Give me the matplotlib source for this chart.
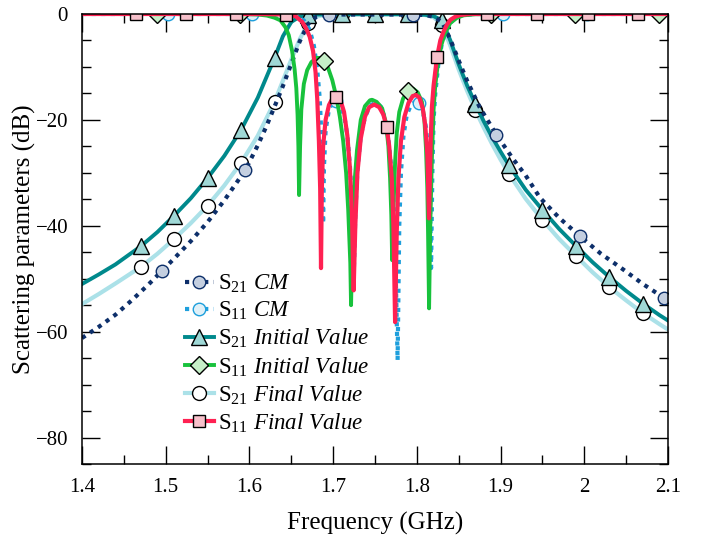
import numpy as np
import matplotlib
matplotlib.use("Agg")
import matplotlib.pyplot as plt
from matplotlib.ticker import MultipleLocator, FuncFormatter

plt.rcParams['font.family'] = ['Liberation Serif', 'DejaVu Serif']
plt.rcParams['mathtext.fontset'] = 'custom'
plt.rcParams['mathtext.rm'] = 'Liberation Serif'
plt.rcParams['mathtext.it'] = 'Liberation Serif:italic'

# ---------------- data (GHz, dB) ----------------
f_s21_init = [1.40, 1.42, 1.44, 1.47, 1.49, 1.51, 1.53, 1.55, 1.57, 1.59, 1.61, 1.63, 1.64, 1.65,
              1.66, 1.67, 1.68, 1.71, 1.75, 1.79, 1.81, 1.82, 1.83, 1.84, 1.85, 1.86, 1.87, 1.88,
              1.89, 1.90, 1.91, 1.93, 1.95, 1.97, 1.99, 2.01, 2.03, 2.05, 2.07, 2.09, 2.10]
s21_init = [-51.0, -49.2, -47.3, -43.9, -41.2, -38.1, -34.8, -31.0, -26.8, -21.9, -15.8, -8.3, -4.2, -1.5,
            -0.5, -0.2, -0.1, -0.05, -0.05, -0.05, -0.15, -0.4, -1.2, -5.0, -9.5, -13.5, -17.0, -20.3,
            -23.3, -26.0, -28.6, -33.2, -37.0, -40.6, -43.8, -46.9, -49.7, -52.3, -54.7, -56.9, -57.9]

f_s21_final = [1.40, 1.42, 1.44, 1.47, 1.49, 1.51, 1.53, 1.55, 1.57, 1.59, 1.61, 1.63, 1.64, 1.65,
               1.66, 1.67, 1.68, 1.69, 1.71, 1.75, 1.79, 1.81, 1.82, 1.83, 1.84, 1.85, 1.86, 1.87,
               1.88, 1.89, 1.90, 1.91, 1.93, 1.95, 1.97, 1.99, 2.01, 2.03, 2.05, 2.07, 2.09, 2.10]
s21_final = [-54.8, -52.9, -50.9, -47.8, -45.3, -42.5, -39.5, -36.2, -32.4, -28.1, -23.0, -16.6, -12.6, -8.6,
             -4.8, -1.7, -0.5, -0.15, -0.05, -0.05, -0.05, -0.2, -0.6, -2.0, -6.0, -10.5, -14.5, -18.2,
             -21.5, -24.6, -27.5, -30.2, -34.9, -38.9, -42.5, -45.7, -48.8, -51.6, -54.1, -56.5, -58.6, -59.6]

f_s21_cm = [1.40, 1.42, 1.44, 1.46, 1.48, 1.495, 1.51, 1.53, 1.55, 1.57, 1.595, 1.61, 1.62, 1.63, 1.64,
            1.65, 1.66, 1.67, 1.68, 1.695, 1.795, 1.81, 1.82, 1.83, 1.84, 1.85, 1.86, 1.875, 1.895,
            1.915, 1.93, 1.947, 1.97, 1.995, 2.02, 2.046, 2.07, 2.095, 2.10]
s21_cm = [-61.2, -59.1, -56.8, -54.0, -51.0, -48.6, -46.2, -42.9, -39.3, -35.2, -29.5, -24.8, -21.3, -17.5, -13.6,
          -9.4, -5.2, -1.9, -0.5, -0.1, -0.1, -0.2, -0.5, -1.5, -4.8, -8.8, -12.6, -17.6, -22.8,
          -27.4, -30.5, -34.7, -38.5, -42.0, -45.3, -48.2, -51.0, -53.6, -54.1]

f_s11_cm = [1.40, 1.503, 1.603, 1.64, 1.655, 1.665, 1.672, 1.677, 1.681, 1.684, 1.686, 1.6875, 1.688,
            1.689, 1.691, 1.695, 1.699, 1.703, 1.708, 1.713, 1.717, 1.720, 1.7225, 1.7245, 1.7265,
            1.729, 1.733, 1.738, 1.744, 1.751, 1.757, 1.762, 1.766, 1.770, 1.7735, 1.777, 1.779,
            1.781, 1.784, 1.788, 1.793, 1.798, 1.803, 1.807, 1.811, 1.8135, 1.8155, 1.817, 1.8185,
            1.820, 1.822, 1.826, 1.830, 1.835, 1.840, 1.846, 1.854, 1.87, 1.903, 2.003, 2.10]
s11_cm = [0.0, 0.0, 0.0, -0.1, -0.3, -1.2, -3.0, -6.0, -10.5, -16.0, -23.0, -30.0, -39.6,
          -29.0, -22.0, -18.0, -16.8, -16.5, -17.0, -19.0, -23.0, -28.5, -36.0, -50.0, -38.0,
          -29.5, -23.0, -19.5, -17.3, -16.7, -17.5, -19.8, -23.5, -30.0, -40.0, -65.4, -40.0,
          -30.0, -23.0, -19.0, -17.2, -16.6, -16.8, -18.2, -21.5, -26.0, -33.0, -48.0, -30.0,
          -20.0, -15.0, -9.0, -5.5, -3.0, -1.7, -0.7, -0.2, 0.0, 0.0, 0.0, 0.0]

f_s11_init = [1.40, 1.489, 1.589, 1.61, 1.621, 1.630, 1.637, 1.643, 1.647, 1.651, 1.654, 1.656, 1.6575,
              1.6585, 1.6593, 1.6605, 1.662, 1.665, 1.669, 1.674, 1.680, 1.685, 1.689, 1.694, 1.699,
              1.704, 1.708, 1.712, 1.7155, 1.718, 1.7205, 1.7214, 1.723, 1.725, 1.7285, 1.733, 1.738,
              1.744, 1.7465, 1.752, 1.7585, 1.763, 1.766, 1.768, 1.7695, 1.7705, 1.772, 1.774, 1.776,
              1.779, 1.7835, 1.789, 1.7955, 1.801, 1.806, 1.809, 1.811, 1.8125, 1.8134, 1.8146, 1.816,
              1.818, 1.820, 1.822, 1.825, 1.829, 1.834, 1.840, 1.848, 1.856, 1.87, 1.889, 1.989,
              2.089, 2.10]
s11_init = [0.0, 0.0, 0.0, -0.1, -0.3, -0.7, -1.2, -2.5, -4.0, -7.0, -10.5, -14.0, -19.0,
            -25.0, -34.2, -25.0, -18.0, -13.2, -10.6, -9.1, -8.3, -8.3, -8.8, -10.2, -12.5,
            -15.8, -19.4, -24.0, -30.0, -37.0, -47.0, -55.0, -42.0, -33.0, -25.7, -20.0, -17.4,
            -16.3, -16.2, -16.6, -17.8, -20.5, -25.0, -31.0, -38.0, -46.5, -37.0, -28.0, -22.5,
            -18.5, -16.0, -14.5, -14.1, -14.8, -16.6, -20.0, -25.7, -33.0, -41.4, -55.6, -40.0,
            -27.0, -18.0, -13.5, -9.5, -6.0, -3.4, -1.7, -0.7, -0.25, -0.05, 0.0, 0.0,
            0.0, 0.0]

f_s11_final = [1.40, 1.464, 1.524, 1.584, 1.62, 1.644, 1.655, 1.663, 1.668, 1.672, 1.676, 1.679, 1.681,
               1.683, 1.6845, 1.6855, 1.6865, 1.688, 1.691, 1.695, 1.699, 1.704, 1.709, 1.713, 1.717,
               1.720, 1.7225, 1.7245, 1.7265, 1.729, 1.733, 1.738, 1.743, 1.749, 1.755, 1.760, 1.764,
               1.767, 1.770, 1.772, 1.774, 1.776, 1.778, 1.781, 1.785, 1.790, 1.795, 1.799, 1.803,
               1.807, 1.810, 1.8125, 1.8145, 1.8165, 1.818, 1.820, 1.824, 1.828, 1.832, 1.836, 1.840,
               1.846, 1.852, 1.864, 1.884, 1.944, 2.004, 2.064, 2.10]
s11_final = [0.0, 0.0, 0.0, 0.0, -0.02, -0.1, -0.4, -1.5, -2.8, -4.3, -7.0, -11.0, -16.0,
             -24.0, -33.0, -48.0, -33.0, -25.0, -20.0, -17.2, -16.0, -15.6, -16.4, -18.5, -23.0,
             -29.0, -38.0, -52.2, -40.0, -30.0, -23.5, -19.4, -17.6, -17.1, -17.6, -19.0, -21.4,
             -25.0, -31.0, -40.0, -58.2, -41.0, -31.0, -24.0, -19.5, -16.8, -15.5, -15.3, -15.8,
             -17.8, -21.0, -26.5, -38.6, -24.0, -17.5, -13.5, -8.2, -5.0, -3.3, -2.0, -1.1,
             -0.5, -0.2, 0.0, 0.0, 0.0, 0.0, 0.0, 0.0]

# marker positions (GHz)
mk_s21 = [1.47, 1.51, 1.55, 1.59, 1.63, 1.67, 1.71, 1.75, 1.79, 1.83, 1.87, 1.91, 1.95, 1.99, 2.03, 2.07]
mk_s21_final = [1.47, 1.51, 1.55, 1.59, 1.63, 1.67, 1.71, 1.75, 1.79, 1.83, 1.87, 1.91, 1.95, 1.99, 2.03, 2.07]
mk_s21_cm = [1.495, 1.595, 1.695, 1.795, 1.895, 1.995, 2.095]
mk_s11_cm = [1.503, 1.603, 1.703, 1.803, 1.903, 2.003]
mk_s11_init = [1.489, 1.589, 1.689, 1.789, 1.889, 1.989, 2.089]
mk_s11_final = [1.464, 1.524, 1.584, 1.644, 1.704, 1.764, 1.824, 1.884, 1.944, 2.004, 2.064]

labels = [r'S$_{21}$ $\mathit{CM}$', r'S$_{11}$ $\mathit{CM}$',
          r'S$_{21}$ $\mathit{Initial\ Value}$', r'S$_{11}$ $\mathit{Initial\ Value}$',
          r'S$_{21}$ $\mathit{Final\ Value}$', r'S$_{11}$ $\mathit{Final\ Value}$']

x_ticks = [1.4, 1.5, 1.6, 1.7, 1.8, 1.9, 2.0, 2.1]
y_ticks = [0, -20, -40, -60, -80]


def idx(freqs, marks):
    fa = np.asarray(freqs)
    return [int(np.argmin(np.abs(fa - m))) for m in marks]


fig = plt.figure(figsize=(7.05, 5.37), dpi=100)
ax = fig.add_axes([82 / 705, 1 - 464 / 537, (668 - 82) / 705, (464 - 14) / 537])

c_s21_cm = '#0d2f6a'
c_s11_cm = '#1e9fdc'
c_s21_init = '#00898c'
c_s11_init = '#18c23c'
c_s21_final = '#abe1e8'
c_s11_final = '#ff2152'

h = {}
h['s21f'], = ax.plot(f_s21_final, s21_final, color=c_s21_final, lw=3.0, zorder=2,
                     marker='o', ms=10, mfc='white', mec='black', mew=1.0,
                     markevery=idx(f_s21_final, mk_s21_final))
h['s21i'], = ax.plot(f_s21_init, s21_init, color=c_s21_init, lw=2.8, zorder=3,
                     marker='^', ms=11, mfc='#9fd8d6', mec='black', mew=1.0,
                     markevery=idx(f_s21_init, mk_s21))
h['s21c'], = ax.plot(f_s21_cm, s21_cm, color=c_s21_cm, lw=3.0, ls=(0, (1, 1.3)), zorder=4,
                     marker='o', ms=9, mfc='#c4cfe0', mec=c_s21_cm, mew=1.0,
                     markevery=idx(f_s21_cm, mk_s21_cm))
h['s11c'], = ax.plot(f_s11_cm, s11_cm, color=c_s11_cm, lw=3.0, ls=(0, (1, 1.3)), zorder=5,
                     marker='o', ms=9, mfc='#dff0f8', mec=c_s11_cm, mew=1.0,
                     markevery=idx(f_s11_cm, mk_s11_cm))
h['s11i'], = ax.plot(f_s11_init, s11_init, color=c_s11_init, lw=2.8, zorder=6,
                     marker='D', ms=9, mfc='#c6efc8', mec='black', mew=1.0,
                     markevery=idx(f_s11_init, mk_s11_init))
h['s11f'], = ax.plot(f_s11_final, s11_final, color=c_s11_final, lw=3.0, zorder=7,
                     marker='s', ms=9, mfc='#f7c1cb', mec='black', mew=1.0,
                     markevery=idx(f_s11_final, mk_s11_final))
for ln in h.values():
    ln.set_clip_path(ax.patch)

ax.set_xlim(1.4, 2.1)
ax.set_ylim(-85, 0)
ax.set_xticks(x_ticks)
ax.set_yticks(y_ticks)
ax.xaxis.set_minor_locator(MultipleLocator(0.05))
ax.yaxis.set_minor_locator(MultipleLocator(5))
ax.xaxis.set_major_formatter(FuncFormatter(lambda v, p: f'{v:g}'))
ax.yaxis.set_major_formatter(FuncFormatter(lambda v, p: f'{v:g}'.replace('-', '\u2212')))
ax.tick_params(which='both', direction='in', top=True, right=True, width=1.0, labelsize=15)
ax.tick_params(which='major', length=13, pad=10)
ax.tick_params(which='minor', length=6.5)
for s in ax.spines.values():
    s.set_linewidth(1.1)
    s.set_zorder(10)

ax.set_xlabel('Frequency (GHz)', fontsize=18, labelpad=11)
ax.set_ylabel('Scattering parameters (dB)', fontsize=18)
ax.yaxis.set_label_coords(-0.078, 0.5)

handles = [h['s21c'], h['s11c'], h['s21i'], h['s11i'], h['s21f'], h['s11f']]
leg = ax.legend(handles, labels, loc='upper left', bbox_to_anchor=(0.16, 0.445),
                frameon=False, fontsize=16.5, handlelength=1.25, handletextpad=0.2,
                labelspacing=0.21, numpoints=1, borderaxespad=0)

fig.savefig('out.png', dpi=100)
